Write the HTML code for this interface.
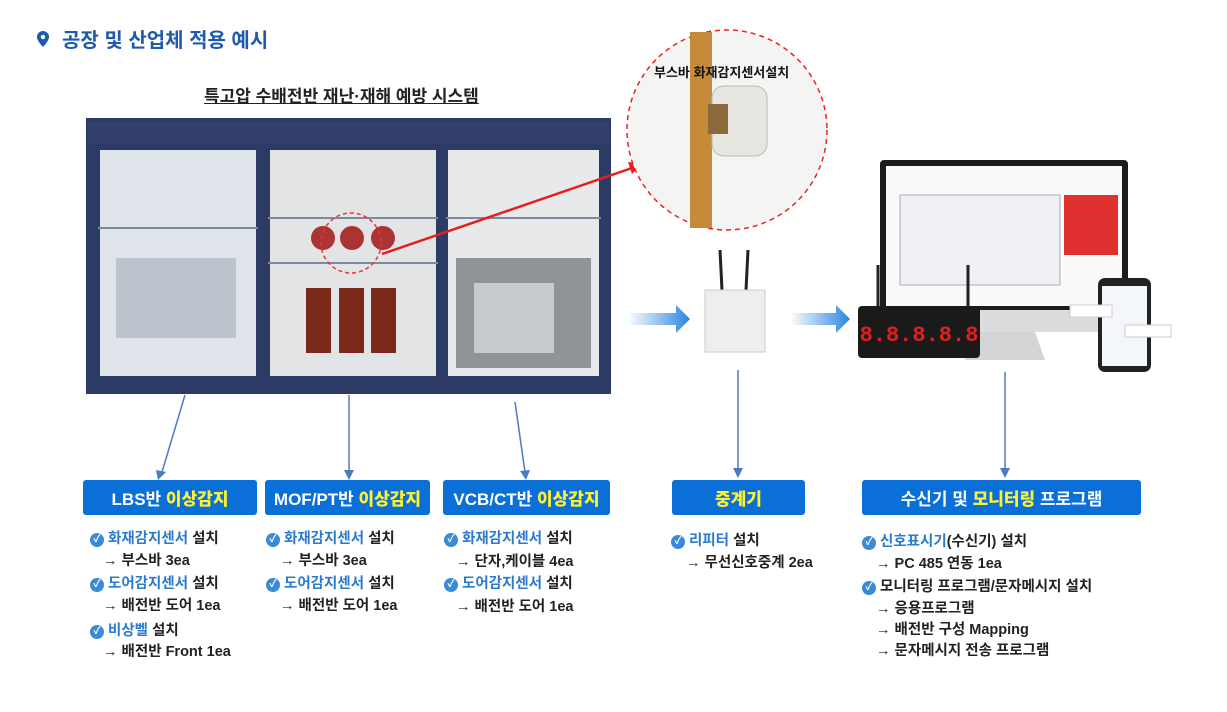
<!DOCTYPE html>
<html><head><meta charset="utf-8"><style>
body{margin:0;width:1227px;height:712px;background:#fff;position:relative;overflow:hidden;font-family:"Liberation Sans","Noto Sans CJK KR",sans-serif}
.a{position:absolute}
.btn{position:absolute;background:#0a6fd6;color:#fff;font-weight:bold;font-size:17px;border-radius:3px;display:flex;align-items:center;justify-content:center;height:35px;top:480px}
.btn b{color:#fff22e}
.li{position:absolute;font-size:14.5px;font-weight:bold;color:#222;white-space:nowrap}
.li .k{color:#2a7ad0}
.ck{display:inline-block;width:14px;height:14px;border-radius:50%;background:#3a8ad8;color:#fff;font-size:10px;text-align:center;line-height:14px;margin-right:4px;vertical-align:1px}
.sub{position:absolute;font-size:14.5px;font-weight:bold;color:#222;white-space:nowrap}
</style></head><body>
<svg class="a" style="left:36px;top:30px" width="14" height="18"><path d="M7 1a6 6 0 0 1 6 6c0 4-6 10-6 10S1 11 1 7a6 6 0 0 1 6-6z" fill="#1e5ab0"/><circle cx="7" cy="7" r="2.2" fill="#fff"/></svg>
<div class="a" style="left:62px;top:24px;font-size:20px;font-weight:bold;color:#1e5ab0">공장 및 산업체 적용 예시</div>
<div class="a" style="left:204px;top:82px;font-size:17px;font-weight:bold;color:#222;text-decoration:underline">특고압 수배전반 재난·재해 예방 시스템</div>

<svg class="a" style="left:86px;top:118px" width="525" height="276">
<rect x="0" y="0" width="525" height="276" fill="#2c3a66"/>
<rect x="2" y="4" width="521" height="22" fill="#34406c"/>
<rect x="12" y="30" width="160" height="230" fill="#dfe3ea"/>
<rect x="182" y="30" width="170" height="230" fill="#e3e4e6"/>
<rect x="360" y="30" width="155" height="230" fill="#e8e9eb"/>
<g stroke="#2c3a66" stroke-width="4" fill="none">
<rect x="12" y="30" width="160" height="230"/><rect x="182" y="30" width="170" height="230"/><rect x="360" y="30" width="155" height="230"/>
</g>
<g stroke="#7a8aa0" stroke-width="2"><line x1="12" y1="110" x2="172" y2="110"/><line x1="182" y1="100" x2="352" y2="100"/><line x1="182" y1="145" x2="352" y2="145"/><line x1="360" y1="100" x2="515" y2="100"/></g>
<rect x="30" y="140" width="120" height="80" fill="#9aa4b0" opacity=".5"/>
<rect x="220" y="170" width="25" height="65" fill="#7a2a1a"/><rect x="253" y="170" width="25" height="65" fill="#7a2a1a"/><rect x="285" y="170" width="25" height="65" fill="#7a2a1a"/>
<circle cx="237" cy="120" r="12" fill="#a33"/><circle cx="266" cy="120" r="12" fill="#a33"/><circle cx="297" cy="120" r="12" fill="#a33"/>
<rect x="370" y="140" width="135" height="110" fill="#8f9497"/><rect x="388" y="165" width="80" height="70" fill="#c8cbcd"/>
<circle cx="265" cy="125" r="30" fill="none" stroke="#e33" stroke-width="1.5" stroke-dasharray="4 3"/>
</svg>
<svg class="a" style="left:0;top:0" width="1227" height="712">
<line x1="382" y1="254" x2="632" y2="168" stroke="#e81d1d" stroke-width="2.5"/>
<polygon points="642,164 628,162 632,174" fill="#e81d1d"/>
<g stroke="#4a7cc0" stroke-width="1.5">
<line x1="185" y1="395" x2="162" y2="472"/><line x1="349" y1="395" x2="349" y2="472"/><line x1="515" y1="402" x2="525" y2="472"/><line x1="738" y1="370" x2="738" y2="470"/><line x1="1005" y1="372" x2="1005" y2="470"/></g>
<g fill="#4a7cc0"><polygon points="158,480 156,470 166,472"/><polygon points="349,480 344,470 354,470"/><polygon points="526,480 520,471 530,470"/><polygon points="738,478 733,468 743,468"/><polygon points="1005,478 1000,468 1010,468"/></g>
<defs><linearGradient id="g" x1="0" x2="1"><stop offset="0" stop-color="#fff"/><stop offset="1" stop-color="#2b84e0"/></linearGradient></defs>
<polygon points="628,313 676,313 676,305 690,319 676,333 676,325 628,325" fill="url(#g)"/>
<polygon points="790,313 836,313 836,305 850,319 836,333 836,325 790,325" fill="url(#g)"/>
<circle cx="727" cy="130" r="100" fill="#f4f4f2" stroke="#e22" stroke-width="1.5" stroke-dasharray="5 4"/>
<rect x="690" y="32" width="22" height="196" fill="#c58a3a"/>
<rect x="712" y="86" width="55" height="70" rx="12" fill="#e8e6e0" stroke="#bbb"/>
<rect x="708" y="104" width="20" height="30" fill="#8a6a3a"/>
<line x1="720" y1="250" x2="722" y2="290" stroke="#222" stroke-width="3"/><line x1="748" y1="250" x2="746" y2="290" stroke="#222" stroke-width="3"/>
<rect x="705" y="290" width="60" height="62" fill="#eceeef" stroke="#ccc"/>
<rect x="880" y="160" width="248" height="150" rx="4" fill="#1c1c1c"/>
<rect x="886" y="166" width="236" height="140" fill="#fafafa"/>
<rect x="900" y="195" width="160" height="90" fill="#eef0f3" stroke="#aab"/>
<rect x="1064" y="195" width="54" height="60" fill="#e03030"/>
<rect x="880" y="310" width="248" height="22" fill="#dcdcdc"/>
<polygon points="975,332 1035,332 1045,360 965,360" fill="#d4d4d4"/>
<line x1="878" y1="265" x2="878" y2="310" stroke="#222" stroke-width="3"/><line x1="968" y1="265" x2="968" y2="310" stroke="#222" stroke-width="3"/>
<rect x="858" y="306" width="122" height="52" rx="4" fill="#1a1a1a"/>
<text x="919" y="341" text-anchor="middle" font-family="Liberation Mono" font-size="22" fill="#e02020" font-weight="bold">8.8.8.8.8</text>
<rect x="1098" y="278" width="53" height="94" rx="7" fill="#222"/><rect x="1102" y="286" width="45" height="80" fill="#f3f6fa"/>
<rect x="1070" y="305" width="42" height="12" fill="#fff" stroke="#ccc"/><rect x="1125" y="325" width="46" height="12" fill="#fff" stroke="#ccc"/>
</svg>
<div class="a" style="left:654px;top:62px;font-size:13px;font-weight:bold;color:#111">부스바 화재감지센서설치</div>

<div class="btn" style="left:83px;width:174px">LBS반&nbsp;<b>이상감지</b></div>
<div class="btn" style="left:265px;width:165px">MOF/PT반&nbsp;<b>이상감지</b></div>
<div class="btn" style="left:443px;width:167px">VCB/CT반&nbsp;<b>이상감지</b></div>
<div class="btn" style="left:672px;width:133px"><b>중계기</b></div>
<div class="btn" style="left:862px;width:279px">수신기 및&nbsp;<b>모니터링</b>&nbsp;프로그램</div>

<div class="li" style="left:90px;top:527px"><span class="ck">✓</span><span class="k">화재감지센서</span> 설치</div>
<div class="sub" style="left:103px;top:549px">→ 부스바 3ea</div>
<div class="li" style="left:90px;top:572px"><span class="ck">✓</span><span class="k">도어감지센서</span> 설치</div>
<div class="sub" style="left:103px;top:594px">→ 배전반 도어 1ea</div>
<div class="li" style="left:90px;top:619px"><span class="ck">✓</span><span class="k">비상벨</span> 설치</div>
<div class="sub" style="left:103px;top:640px">→ 배전반 Front 1ea</div>

<div class="li" style="left:266px;top:527px"><span class="ck">✓</span><span class="k">화재감지센서</span> 설치</div>
<div class="sub" style="left:280px;top:549px">→ 부스바 3ea</div>
<div class="li" style="left:266px;top:572px"><span class="ck">✓</span><span class="k">도어감지센서</span> 설치</div>
<div class="sub" style="left:280px;top:594px">→ 배전반 도어 1ea</div>

<div class="li" style="left:444px;top:527px"><span class="ck">✓</span><span class="k">화재감지센서</span> 설치</div>
<div class="sub" style="left:456px;top:550px">→ 단자,케이블 4ea</div>
<div class="li" style="left:444px;top:572px"><span class="ck">✓</span><span class="k">도어감지센서</span> 설치</div>
<div class="sub" style="left:456px;top:595px">→ 배전반 도어 1ea</div>

<div class="li" style="left:671px;top:529px"><span class="ck">✓</span><span class="k">리피터</span> 설치</div>
<div class="sub" style="left:686px;top:551px">→ 무선신호중계 2ea</div>

<div class="li" style="left:862px;top:530px"><span class="ck">✓</span><span class="k">신호표시기</span>(수신기) 설치</div>
<div class="sub" style="left:876px;top:552px">→ PC 485 연동 1ea</div>
<div class="li" style="left:862px;top:575px"><span class="ck">✓</span>모니터링 프로그램/문자메시지 설치</div>
<div class="sub" style="left:876px;top:597px">→ 응용프로그램</div>
<div class="sub" style="left:876px;top:618px">→ 배전반 구성 Mapping</div>
<div class="sub" style="left:876px;top:639px">→ 문자메시지 전송 프로그램</div>
</body></html>
